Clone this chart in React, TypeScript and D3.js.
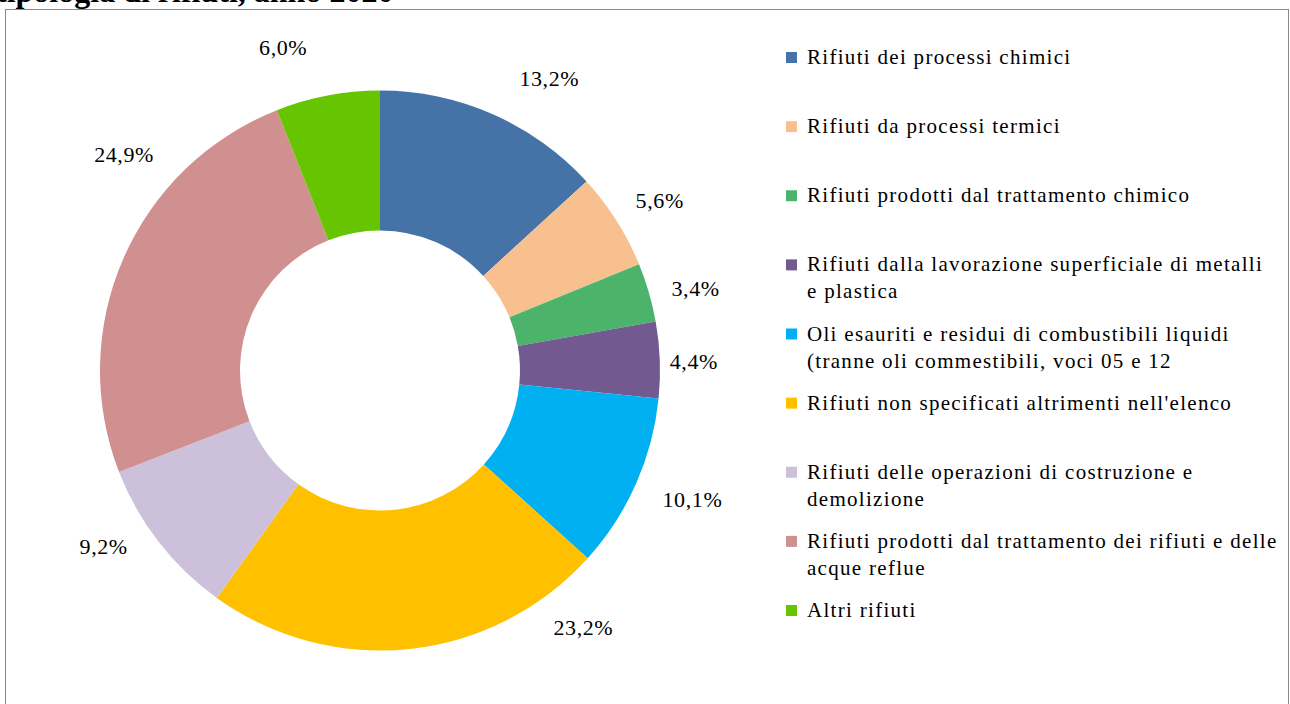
import React from "react";
import * as d3 from "d3";

const categories: string[][] = [
  ["Rifiuti dei processi chimici"],
  ["Rifiuti da processi termici"],
  ["Rifiuti prodotti dal trattamento chimico"],
  ["Rifiuti dalla lavorazione superficiale di metalli", "e plastica"],
  ["Oli esauriti e residui di combustibili liquidi", "(tranne oli commestibili, voci 05 e 12"],
  ["Rifiuti non specificati altrimenti nell'elenco"],
  ["Rifiuti delle operazioni di costruzione e", "demolizione"],
  ["Rifiuti prodotti dal trattamento dei rifiuti e delle", "acque reflue"],
  ["Altri rifiuti"],
];
const values: number[] = [13.2, 5.6, 3.4, 4.4, 10.1, 23.2, 9.2, 24.9, 6.0];
const colors: string[] = [
  "#4572A7", "#F9C08F", "#4BB46A", "#725990", "#00B0F0",
  "#FFC000", "#CCC0DA", "#D09090", "#66C500",
];
// layout: Excel "best fit" label placement (angle nudge in degrees, radius in px)
const labelAngleNudge: number[] = [6.4, 1.2, 1.7, 0.6, -1.5, -32.2, 5.2, 16.6, -5.9];
const labelRadius: number[] = [337, 327, 326, 314, 338, 328, 328, 335, 337];

const W = 1290;
const H = 704;
const cx = 380;
const cy = 370.5;
const outerR = 280;
const innerR = 140;
const font = "'Liberation Serif', 'Times New Roman', serif";

export default function App() {
  const pie = d3.pie<number>().sort(null).value((d) => d).startAngle(0).endAngle(2 * Math.PI);
  const arcs = pie(values);
  const arcGen = d3.arc<d3.PieArcDatum<number>>().innerRadius(innerR).outerRadius(outerR);
  const fmt = (v: number) => d3.format(".1f")(v).replace(".", ",") + "%";
  const legendY = d3.scaleLinear().domain([0, categories.length - 1]).range([64, 617]);

  return (
    <svg
      width={W}
      height={H}
      style={{ position: "absolute", left: 0, top: 0, display: "block", background: "#fff" }}
    >
      <text x={-4} y={2} fontFamily={font} fontWeight="bold" fontSize={32} fill="#000">
        tipologia di rifiuti, anno 2020
      </text>
      <rect x={5.5} y={9.5} width={1283} height={800} fill="#fff" stroke="#8a8a8a" strokeWidth={1} />
      <g transform={`translate(${cx},${cy})`}>
        {arcs.map((a, i) => (
          <path key={i} d={arcGen(a) || ""} fill={colors[i]} />
        ))}
        {arcs.map((a, i) => {
          const mid = (a.startAngle + a.endAngle) / 2 + (labelAngleNudge[i] * Math.PI) / 180;
          const r = labelRadius[i];
          const x = Math.sin(mid) * r;
          const y = -Math.cos(mid) * r;
          return (
            <text
              key={"l" + i}
              x={x}
              y={y}
              dy="0.33em"
              textAnchor="middle"
              fontFamily={font}
              fontSize={22}
              letterSpacing={0.6}
              fill="#000"
            >
              {fmt(a.data)}
            </text>
          );
        })}
      </g>
      <g>
        {categories.map((lines, i) => {
          const by = legendY(i);
          return (
            <g key={"g" + i}>
              <rect x={786} y={by - 12} width={11} height={11} fill={colors[i]} />
              {lines.map((ln, j) => (
                <text
                  key={j}
                  x={807}
                  y={by + j * 27}
                  fontFamily={font}
                  fontSize={21}
                  letterSpacing={1.3}
                  fill="#000"
                >
                  {ln}
                </text>
              ))}
            </g>
          );
        })}
      </g>
    </svg>
  );
}
